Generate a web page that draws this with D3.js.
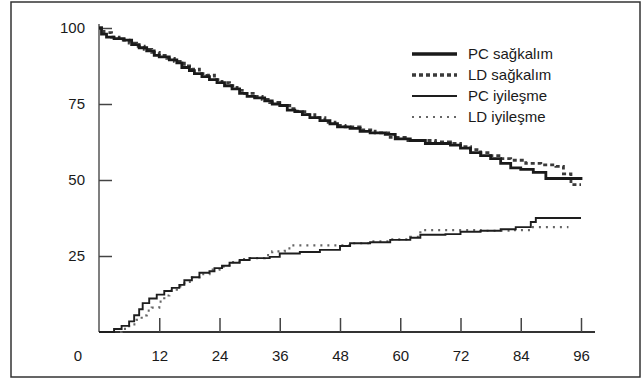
<!DOCTYPE html>
<html>
<head>
<meta charset="utf-8">
<script src="https://cdn.jsdelivr.net/npm/d3@7/dist/d3.min.js"></script>
<style>
  body { margin: 0; background: #fff; }
  svg text { font-family: "Liberation Sans", Arial, sans-serif; fill: #1a1a1a; }
</style>
</head>
<body>
<svg id="chart" width="643" height="380"></svg>
<script>
// step curves, [month, %]
const pcSurvival = [
  [0,100],[0.5,98],[1.5,97],[3,96.5],[5,96],[6.5,94.5],[8,93.5],[9.5,92.5],[11,91],[12,90.5],
  [14,89.5],[15.5,88.5],[16.5,87],[18,86],[19,85],[20.5,84],[22,83],[23.5,82],[25,81],[26.5,80],
  [28,78.5],[29.5,77.5],[31,77],[33,76],[34.5,75],[36,74.5],[37.5,73],[39,72.5],[40.5,71.5],
  [42,70.5],[44,69.5],[46,68.5],[47.5,67.5],[50,67],[52,66],[54,65.5],[57,65],[59,63.5],[62,63],
  [65,62],[70,61.5],[72,60.5],[74,59],[76,58],[78,57],[80,55.5],[82,54],[84,53.5],[86.5,52.5],
  [89,50.5],[96,50]
];
const ldSurvival = [
  [0,100],[1,98.5],[2.5,97],[4,96],[6,95],[7.5,94],[9,93],[10.5,92],[12,91],[13.5,90],[15,89],
  [17,87.5],[18.5,86.5],[20,85],[21.5,84.5],[23,83],[24.5,82],[26,81],[27.5,79.5],[29,78.5],
  [31,77.5],[32.5,76.5],[34,75.5],[36,74.5],[38,73.5],[39.5,72.5],[41,71.5],[43,70.5],[45,69],
  [47,68],[49,67.5],[52,66.5],[55,65.5],[58,64],[61,63],[64,63],[67,62.5],[70,62],[72,61],[74,60],
  [76,59],[78,58],[80,57],[82,56.5],[85,55.5],[88,55],[91,54.5],[92.5,52],[94,48.5],[96,48.5]
];
const pcRecovery = [
  [0,0],[2,0],[3,1],[4.5,2],[6,3.5],[7,5.5],[8,7.5],[8.7,9.5],[10,11],[11.5,12.3],[13,13.5],
  [14.5,14.5],[16,15.5],[17,17],[18.5,18],[20,19.5],[22,20],[23,21],[24.5,21.8],[26,22.8],
  [28,23.7],[30,24.3],[34,24.7],[36,25.8],[40,26.3],[44,27],[48,28.3],[50,29.2],[54,29.5],
  [58,30.3],[62,31],[64,32],[69,32.2],[72,33],[76,33.3],[80,33.8],[83,34.5],[86,36.2],[87,37.5],
  [96,37.5]
];
const ldRecovery = [
  [0,0],[3,0],[4.5,1],[6,2.5],[7.5,4],[8.5,5.5],[9.5,7],[10.5,8],[12,10],[13,12],[14,13.5],
  [15.5,15],[17,16.5],[18.5,18],[20,19],[22,20.5],[24,21.5],[26,23],[28,24],[30,24.3],[33,25.3],
  [34.5,26.5],[37,27.5],[38.5,28.5],[48,28.5],[50,29.2],[54,29.8],[58,30.5],[62,31.3],[64,33.5],
  [72,33.5],[76,33.3],[82,33.5],[86,34.5],[93.5,34.5]
];

const xTicks = [12, 24, 36, 48, 60, 72, 84, 96];
const yTicks = [25, 50, 75, 100];
const legendLabels = ["PC sağkalım", "LD sağkalım", "PC iyileşme", "LD iyileşme"];

const svg = d3.select("#chart");

// frame
svg.append("rect")
  .attr("x", 11).attr("y", 2).attr("width", 629).attr("height", 375)
  .attr("fill", "none").attr("stroke", "#333").attr("stroke-width", 1.5);

const x = d3.scaleLinear().domain([0, 96]).range([99, 581]);
const y = d3.scaleLinear().domain([0, 100]).range([332, 28]);

// y axis
const yAxis = svg.append("g")
  .attr("transform", "translate(" + x(0) + ",0)")
  .call(d3.axisLeft(y).tickValues(yTicks).tickSizeInner(-13).tickSizeOuter(0).tickPadding(14));
yAxis.select(".domain").attr("stroke", "#555").attr("stroke-width", 1.5)
  .attr("d", "M0," + y(0) + "V" + (y(100) - 4));
yAxis.selectAll(".tick line").attr("stroke", "#444").attr("stroke-width", 1.5);
yAxis.selectAll("text").style("font-size", "15px").attr("fill", "#1a1a1a");

// x axis
const xAxis = svg.append("g")
  .attr("transform", "translate(0," + y(0) + ")")
  .call(d3.axisBottom(x).tickValues(xTicks).tickSizeInner(-14).tickSizeOuter(0).tickPadding(18));
xAxis.select(".domain").attr("stroke", "#333").attr("stroke-width", 2)
  .attr("d", "M" + x(0) + ",0H" + (x(96) + 14));
xAxis.selectAll(".tick line").attr("stroke", "#444").attr("stroke-width", 1.5);
xAxis.selectAll("text").style("font-size", "15px").attr("fill", "#1a1a1a");
xAxis.append("text")
  .attr("x", x(0) - 21).attr("y", 18).attr("dy", "0.71em")
  .attr("text-anchor", "middle").style("font-size", "15px").attr("fill", "#1a1a1a")
  .text("0");

const line = d3.line()
  .x(d => x(d[0]))
  .y(d => y(d[1]))
  .curve(d3.curveStepAfter);

const styles = [
  { data: pcSurvival, width: 2.8, dash: null, color: "#1a1a1a" },
  { data: ldSurvival, width: 2.8, dash: "4,3", color: "#3a3a3a" },
  { data: pcRecovery, width: 1.9, dash: null, color: "#1e1e1e" },
  { data: ldRecovery, width: 2.2, dash: "2,5", color: "#666" }
];

// draw dotted ones first so solid ones sit on top
[3, 1, 2, 0].forEach(i => {
  const s = styles[i];
  svg.append("path")
    .datum(s.data)
    .attr("d", line)
    .attr("fill", "none")
    .attr("stroke", s.color)
    .attr("stroke-width", s.width)
    .attr("stroke-dasharray", s.dash);
});

// legend
const legend = svg.append("g");
legendLabels.forEach((lab, i) => {
  const s = styles[i];
  const ly = 54 + i * 21;
  legend.append("line")
    .attr("x1", 412).attr("x2", 457).attr("y1", ly).attr("y2", ly)
    .attr("stroke", s.color)
    .attr("stroke-width", i < 2 ? 3.4 : (i === 2 ? 2 : 2.2))
    .attr("stroke-dasharray", s.dash);
  legend.append("text")
    .attr("x", 468).attr("y", ly).attr("dy", "0.35em")
    .style("font-size", "15px")
    .text(lab);
});
</script>
</body>
</html>
